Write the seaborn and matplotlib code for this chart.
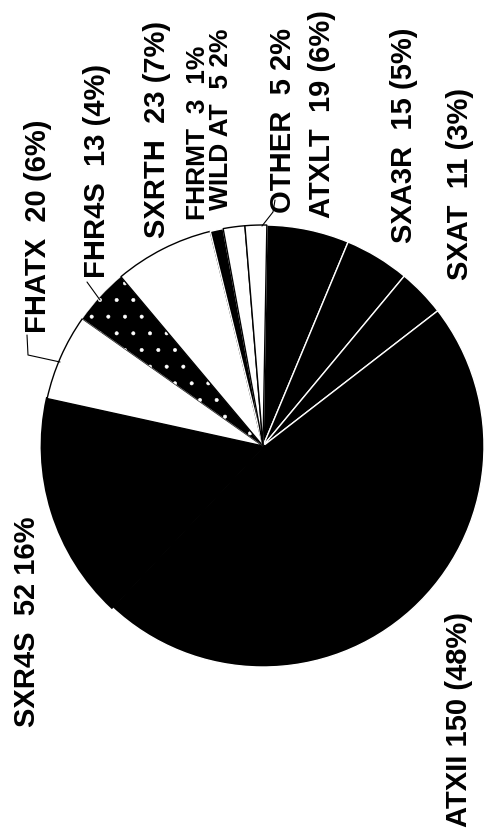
import matplotlib
matplotlib.use('Agg')
import matplotlib.pyplot as plt
import seaborn as sns

# slices in clockwise order starting at the top of the pie
names = ['ATXLT', 'SXA3R', 'SXAT', 'ATXII', 'SXR4S', 'FHATX',
         'FHR4S', 'SXRTH', 'FHRMT', 'WILD AT', 'OTHER']
counts = [19, 15, 11, 150, 52, 20, 13, 23, 3, 5, 5]
labels = ['ATXLT  19 (6%)', 'SXA3R  15 (5%)', 'SXAT  11 (3%)',
          'ATXII 150 (48%)', 'SXR4S  52 16%', 'FHATX  20 (6%)',
          'FHR4S  13 (4%)', 'SXRTH  23 (7%)', 'FHRMT  3  1%',
          'WILD AT  5 2%', 'OTHER  5 2%']
fills = ['black', 'black', 'black', 'black', 'black', 'white',
         'black', 'white', 'black', 'white', 'white']

sns.set_theme(style='white')
plt.rcParams['font.family'] = ['Liberation Sans', 'DejaVu Sans']
plt.rcParams['hatch.linewidth'] = 0.4

W, H = 497, 834
fig = plt.figure(figsize=(W / 100, H / 100), dpi=100)
ax = fig.add_axes([0, 0, 1, 1])

wedges, _ = ax.pie(counts, colors=fills, startangle=89, counterclock=False,
                   center=(263, H - 446), radius=221, frame=True,
                   wedgeprops=dict(linewidth=1.0))
for w, f, n in zip(wedges, fills, names):
    w.set_edgecolor('white' if f == 'black' else 'black')
    if n == 'SXR4S':
        # no visible border between the two big black slices
        w.set_edgecolor('black')
        w.set_linewidth(2.0)
    if n == 'FHR4S':
        w.set_hatch('.')
        w.set_edgecolor('white')
        w.set_linewidth(0.2)
ax.set_xlim(0, W)
ax.set_ylim(0, H)
ax.set_aspect('equal')
ax.axis('off')

# label positions (pixel coords: centre x, bottom y of the rotated text)
label_pos = {
    'FHATX': (38, 333), 'FHR4S': (97, 278), 'SXRTH': (157, 238),
    'FHRMT': (198, 220), 'WILD AT': (221, 210), 'OTHER': (283, 213),
    'ATXLT': (322, 218), 'SXA3R': (404, 243), 'SXAT': (460, 280),
    'SXR4S': (27, 727), 'ATXII': (459, 827),
}
for n, lab in zip(names, labels):
    x, y = label_pos[n]
    size = 19 if n in ('FHRMT', 'WILD AT') else 21
    ax.text(x, H - y, lab, rotation=90, ha='center', va='bottom',
            fontsize=size, fontweight='bold', color='black')

# leader lines
leaders = [
    [(27, 335), (28, 355), (60, 362)],
    [(87, 282), (100, 300)],
    [(275, 200), (273, 212), (262, 226)],
]
for pts in leaders:
    xs = [p[0] for p in pts]
    ys = [H - p[1] for p in pts]
    ax.plot(xs, ys, color='black', linewidth=0.8)

fig.savefig('out.png', dpi=100, facecolor='white')
